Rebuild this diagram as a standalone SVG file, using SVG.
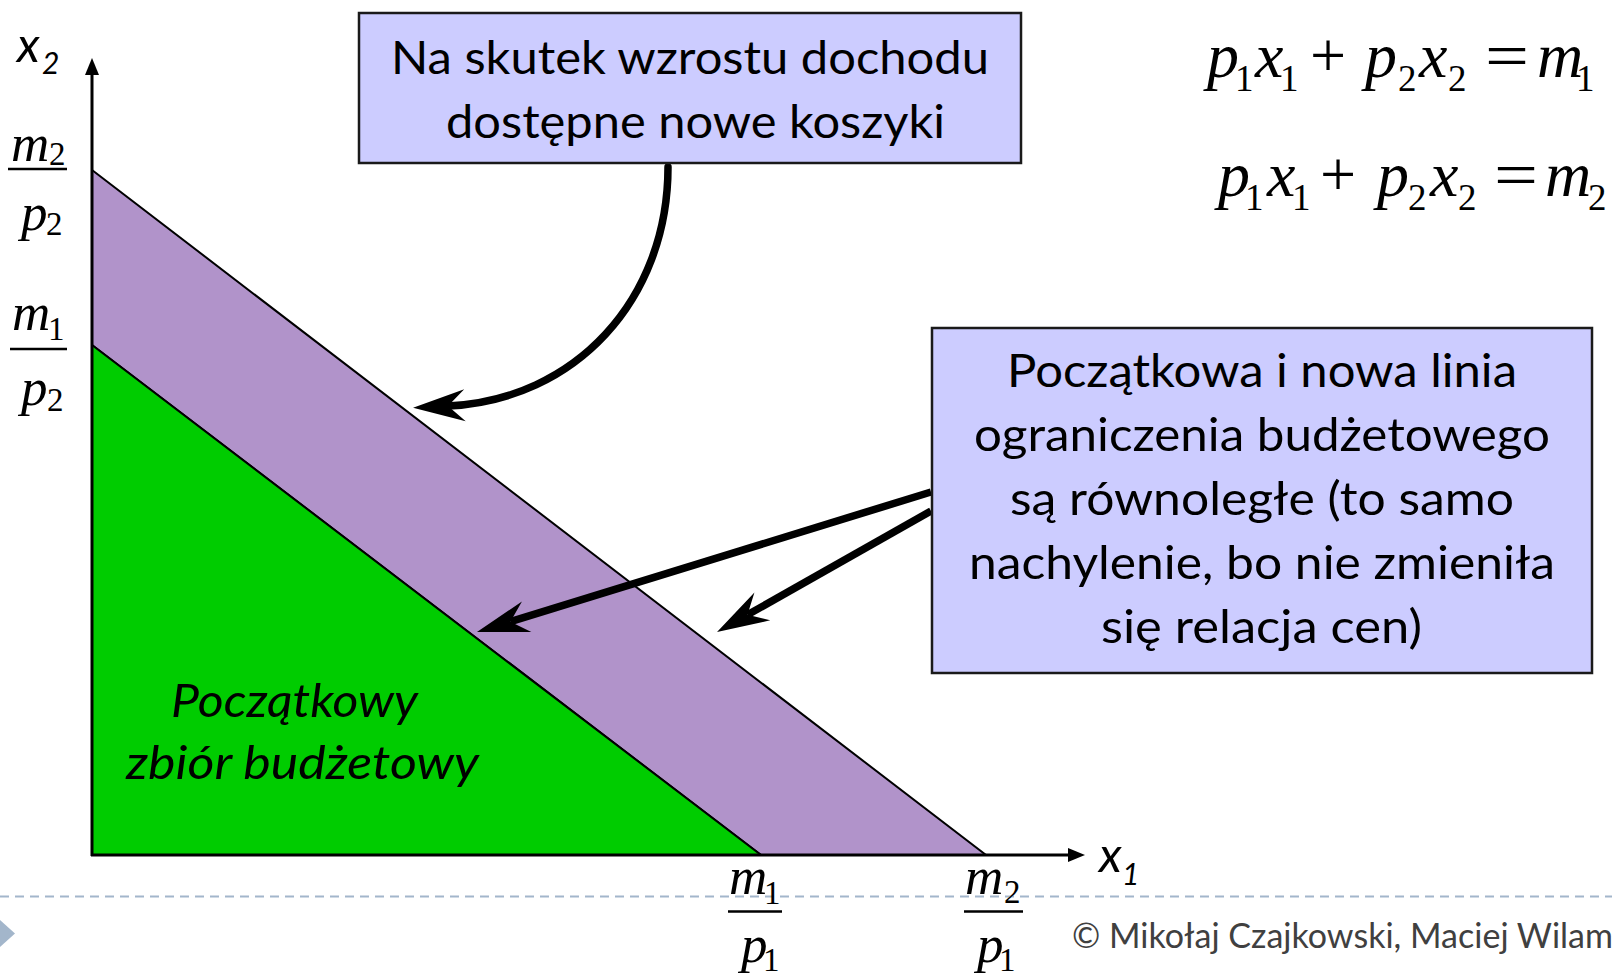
<svg xmlns="http://www.w3.org/2000/svg" width="1612" height="975" viewBox="0 0 1612 975">
<style>
.box{fill:#ccccff;stroke:#1a1a1a;stroke-width:2.5}
.sans{font-family:Lato,"Open Sans","Liberation Sans",sans-serif;fill:#000}
.bt{font-size:47px}
.it{font-style:italic}
.mi{font-family:"Liberation Serif","Times New Roman",serif;font-style:italic;fill:#000}
.mr{font-family:"Liberation Serif","Times New Roman",serif;font-style:normal;fill:#000}
.eq{font-size:64px}
.eqs{font-size:37px}
.fr{font-size:53px}
.frs{font-size:33px}
.bar{stroke:#000;stroke-width:2.5}
.arr{fill:none;stroke:#000;stroke-width:7.5;marker-end:url(#stealth)}
.axis{fill:none;stroke:#000;stroke-width:3;marker-end:url(#axhead)}
</style>
<defs>
<marker id="stealth" markerUnits="userSpaceOnUse" orient="auto" markerWidth="60" markerHeight="40" refX="20" refY="20">
<path d="M55 20 L3 4 L20 20 L3 36 Z" fill="#000"/>
</marker>
<marker id="axhead" markerUnits="userSpaceOnUse" orient="auto" markerWidth="20" markerHeight="20" refX="1" refY="10">
<path d="M17 10 L0 3 L0 17 Z" fill="#000"/>
</marker>
</defs>

<g id="footer">
<line x1="0" y1="896.5" x2="1612" y2="896.5" stroke="#a3b6cb" stroke-width="2" stroke-dasharray="9 6"/>
<polygon points="0,920 15,933.5 0,947" fill="#a3b6cb"/>
<text class="sans" x="1072" y="948" font-size="34" style="fill:#404040" textLength="541" lengthAdjust="spacingAndGlyphs">© Mikołaj Czajkowski, Maciej Wilam</text>
</g>

<g id="budget-sets">
<polygon id="new-set" points="92,170 986,855 761,855 92,345" fill="#b193ca" stroke="#000" stroke-width="2"/>
<polygon id="initial-set" points="92,345 761,855 92,855" fill="#00cc00" stroke="#000" stroke-width="2"/>
<text class="sans it bt" x="171" y="717" textLength="247" lengthAdjust="spacingAndGlyphs">Początkowy</text>
<text class="sans it bt" x="126" y="779" textLength="353" lengthAdjust="spacingAndGlyphs">zbiór budżetowy</text>
</g>

<g id="axes">
<path class="axis" d="M92 856 L92 74"/>
<path class="axis" d="M91 855 L1069 855"/>
<text class="sans it" x="17" y="62" font-size="49">x</text>
<text class="sans it" x="42" y="74" font-size="30">2</text>
<text class="sans it" x="1099" y="872" font-size="49">x</text>
<text class="sans it" x="1122" y="885" font-size="30">1</text>
</g>

<g id="axis-labels">
<g id="m2p2">
<text class="mi fr" x="11" y="161">m</text><text class="mr frs" x="49" y="165">2</text>
<line class="bar" x1="8" y1="169" x2="67" y2="169"/>
<text class="mi fr" x="21" y="230">p</text><text class="mr frs" x="46" y="235">2</text>
</g>
<g id="m1p2">
<text class="mi fr" x="12" y="330">m</text><text class="mr frs" x="48" y="340">1</text>
<line class="bar" x1="10" y1="349" x2="67" y2="349"/>
<text class="mi fr" x="21" y="405">p</text><text class="mr frs" x="47" y="411">2</text>
</g>
<g id="m1p1">
<text class="mi fr" x="729" y="894">m</text><text class="mr frs" x="764" y="904">1</text>
<line class="bar" x1="728" y1="911.5" x2="782" y2="911.5"/>
<text class="mi fr" x="741" y="962">p</text><text class="mr frs" x="763" y="971">1</text>
</g>
<g id="m2p1">
<text class="mi fr" x="965" y="894">m</text><text class="mr frs" x="1004" y="903">2</text>
<line class="bar" x1="964" y1="911.5" x2="1023" y2="911.5"/>
<text class="mi fr" x="977" y="962">p</text><text class="mr frs" x="999" y="971">1</text>
</g>
</g>

<g id="equation-1">
<text class="mi eq" x="1207" y="77">p</text><text class="mr eqs" x="1235" y="91">1</text>
<text class="mi eq" x="1255" y="77">x</text><text class="mr eqs" x="1280" y="91">1</text>
<text class="mr eq" x="1310" y="77">+</text>
<text class="mi eq" x="1365" y="77">p</text><text class="mr eqs" x="1398" y="91">2</text>
<text class="mi eq" x="1419" y="77">x</text><text class="mr eqs" x="1448" y="91">2</text>
<text class="mr eq" x="1485" y="77" textLength="44" lengthAdjust="spacingAndGlyphs">=</text>
<text class="mi eq" x="1537" y="77">m</text><text class="mr eqs" x="1576" y="91">1</text>
</g>

<g id="equation-2">
<text class="mi eq" x="1218" y="196">p</text><text class="mr eqs" x="1245" y="210">1</text>
<text class="mi eq" x="1267" y="196">x</text><text class="mr eqs" x="1292" y="210">1</text>
<text class="mr eq" x="1320" y="196">+</text>
<text class="mi eq" x="1377" y="196">p</text><text class="mr eqs" x="1408" y="210">2</text>
<text class="mi eq" x="1430" y="196">x</text><text class="mr eqs" x="1458" y="210">2</text>
<text class="mr eq" x="1494" y="196" textLength="44" lengthAdjust="spacingAndGlyphs">=</text>
<text class="mi eq" x="1545" y="196">m</text><text class="mr eqs" x="1588" y="210">2</text>
</g>

<g id="connectors">
<path class="arr" d="M668 167 C668 300 575 400 448 406" stroke-width="8" stroke-linecap="round"/>
<path class="arr" d="M931 492 L510.4 621.7"/>
<path class="arr" d="M931 511 L747.5 614.8"/>
</g>

<g id="box-income">
<rect class="box" x="359" y="13" width="662" height="150"/>
<text class="sans bt" x="391" y="74" textLength="598" lengthAdjust="spacingAndGlyphs">Na skutek wzrostu dochodu</text>
<text class="sans bt" x="446" y="138" textLength="499" lengthAdjust="spacingAndGlyphs">dostępne nowe koszyki</text>
</g>

<g id="box-parallel">
<rect class="box" x="932" y="328" width="660" height="345"/>
<text class="sans bt" x="1007" y="387" textLength="510" lengthAdjust="spacingAndGlyphs">Początkowa i nowa linia</text>
<text class="sans bt" x="974" y="451" textLength="576" lengthAdjust="spacingAndGlyphs">ograniczenia budżetowego</text>
<text class="sans bt" x="1010" y="515" textLength="504" lengthAdjust="spacingAndGlyphs">są równoległe (to samo</text>
<text class="sans bt" x="969" y="579" textLength="586" lengthAdjust="spacingAndGlyphs">nachylenie, bo nie zmieniła</text>
<text class="sans bt" x="1101" y="643" textLength="321" lengthAdjust="spacingAndGlyphs">się relacja cen)</text>
</g>
</svg>
